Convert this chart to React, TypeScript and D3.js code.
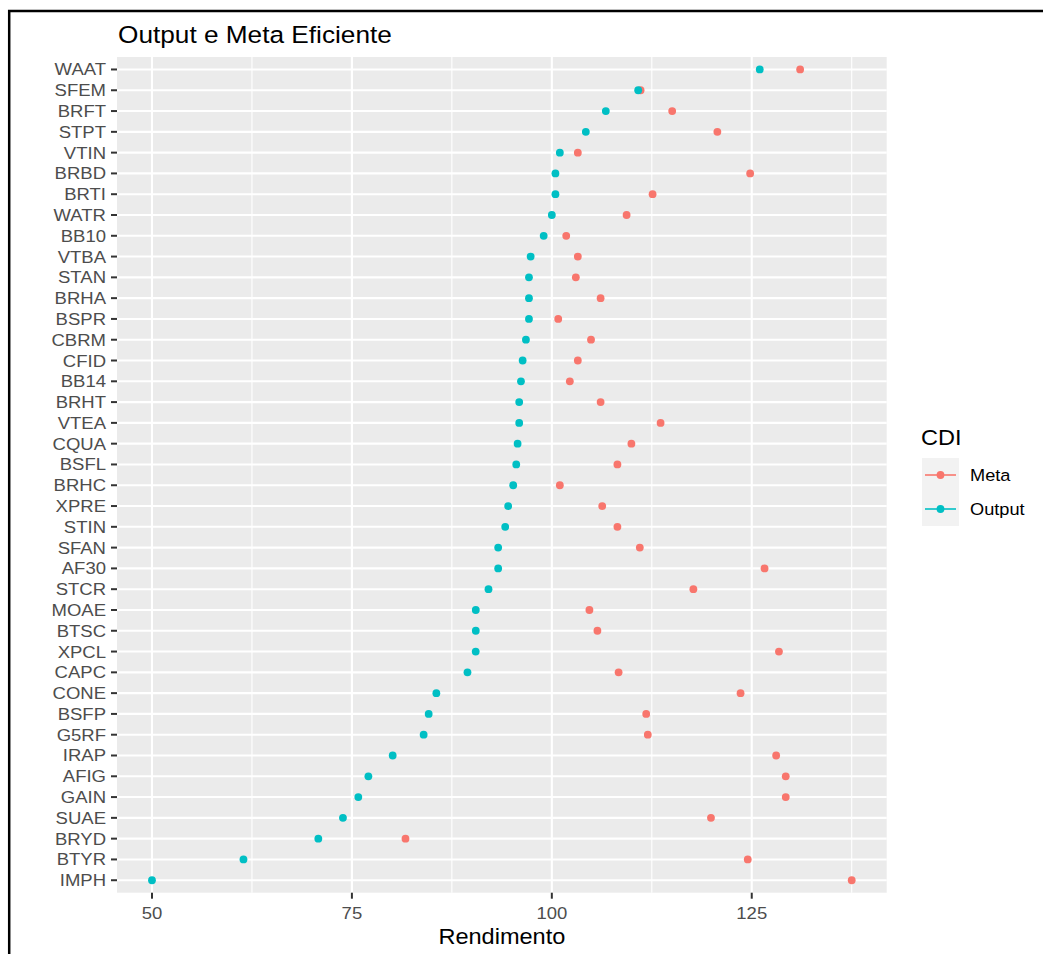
import * as d3 from "d3"

const categories = ["WAAT", "SFEM", "BRFT", "STPT", "VTIN", "BRBD", "BRTI", "WATR", "BB10", "VTBA",
    "STAN", "BRHA", "BSPR", "CBRM", "CFID", "BB14", "BRHT", "VTEA", "CQUA", "BSFL",
    "BRHC", "XPRE", "STIN", "SFAN", "AF30", "STCR", "MOAE", "BTSC", "XPCL", "CAPC",
    "CONE", "BSFP", "G5RF", "IRAP", "AFIG", "GAIN", "SUAE", "BRYD", "BTYR", "IMPH"]

const output = [126.0, 110.8, 106.75, 104.25, 101.0, 100.45, 100.45, 100.0, 98.98, 97.35,
    97.14, 97.14, 97.14, 96.76, 96.35, 96.14, 95.92, 95.92, 95.72, 95.55,
    95.17, 94.54, 94.17, 93.29, 93.29, 92.08, 90.49, 90.49, 90.48, 89.45,
    85.56, 84.6, 83.97, 80.1, 77.06, 75.8, 73.88, 70.8, 61.44, 50.0]

const meta = [131.05, 111.1, 115.05, 120.7, 103.25, 124.8, 112.6, 109.35, 101.8, 103.25,
    103.0, 106.1, 100.8, 104.9, 103.25, 102.25, 106.1, 113.6, 109.95, 108.2,
    101.0, 106.3, 108.2, 111.0, 126.6, 117.7, 104.7, 105.7, 128.4, 108.35,
    123.6, 111.8, 112.0, 128.05, 129.25, 129.25, 119.9, 81.7, 124.5, 137.5]

const majorTicks = [50, 75, 100, 125]
const minorTicks = [62.5, 87.5, 112.5, 137.5]

const seriesNames = ["Meta", "Output"]
const seriesColors = ["#F8766D", "#00BFC4"]

const font = "'Liberation Sans', Arial, sans-serif"
const stretch = 1.07

// text slightly widened, the reference glyphs are a bit broader than Liberation Sans
const Label = ({ x, y, size, fill, anchor, children }: any) => (
    <text transform={`translate(${x},${y}) scale(${stretch},1)`} fontSize={size} fill={fill} textAnchor={anchor ?? "start"}>
        {children}
    </text>
)

export default function App() {
    const panel = { left: 117, right: 886.7, top: 57, bottom: 892.7 }
    const all = [...output, ...meta]
    const [lo, hi] = d3.extent(all) as [number, number]
    const pad = (hi - lo) * 0.05
    const x = d3.scaleLinear().domain([lo - pad, hi + pad]).range([panel.left, panel.right])
    const y = d3.scalePoint<string>().domain(categories).range([panel.top, panel.bottom]).padding(0.6)
    const color = d3.scaleOrdinal<string, string>().domain(seriesNames).range(seriesColors)
    const series = [meta, output]

    return (
        <svg width={1043} height={954} style={{ position: "absolute", left: 0, top: 0 }} fontFamily={font}>
            <rect width={1043} height={954} fill="white" />
            <rect x={9.2} y={11} width={1100} height={1000} fill="none" stroke="black" strokeWidth={2.5} />
            <Label x={118} y={42.5} size={24.5} fill="black">Output e Meta Eficiente</Label>

            <rect x={panel.left} y={panel.top} width={panel.right - panel.left} height={panel.bottom - panel.top} fill="#EBEBEB" />
            {minorTicks.map((t) => (
                <line key={"mi" + t} x1={x(t)} x2={x(t)} y1={panel.top} y2={panel.bottom} stroke="white" strokeWidth={1.1} />
            ))}
            {majorTicks.map((t) => (
                <line key={"ma" + t} x1={x(t)} x2={x(t)} y1={panel.top} y2={panel.bottom} stroke="white" strokeWidth={2.1} />
            ))}
            {categories.map((c) => (
                <line key={"h" + c} x1={panel.left} x2={panel.right} y1={y(c)} y2={y(c)} stroke="white" strokeWidth={2.1} />
            ))}

            {series.map((vals, si) => vals.map((v, i) => (
                <circle key={si + "-" + i} cx={x(v)} cy={y(categories[i])} r={3.9} fill={color(seriesNames[si])} />
            )))}

            {categories.map((c) => (
                <g key={"yt" + c}>
                    <line x1={panel.left - 6} x2={panel.left} y1={y(c)} y2={y(c)} stroke="#333333" strokeWidth={2} />
                    <Label x={panel.left - 11} y={(y(c) ?? 0) + 6} size={17.3} fill="#4D4D4D" anchor="end">{c}</Label>
                </g>
            ))}
            {majorTicks.map((t) => (
                <g key={"xt" + t}>
                    <line x1={x(t)} x2={x(t)} y1={panel.bottom} y2={panel.bottom + 6} stroke="#333333" strokeWidth={2} />
                    <Label x={x(t)} y={919} size={17.3} fill="#4D4D4D" anchor="middle">{t}</Label>
                </g>
            ))}
            <Label x={(panel.left + panel.right) / 2} y={944} size={22} fill="black" anchor="middle">Rendimento</Label>

            <Label x={921} y={445} size={22} fill="black">CDI</Label>
            {seriesNames.map((s, i) => {
                const cy = 475 + i * 34
                return (
                    <g key={"lg" + s}>
                        <rect x={922} y={cy - 17} width={37} height={34} fill="#F2F2F2" />
                        <line x1={925} x2={956} y1={cy} y2={cy} stroke={color(s)} strokeWidth={1.6} />
                        <circle cx={940.5} cy={cy} r={3.9} fill={color(s)} />
                        <Label x={970} y={cy + 6} size={17} fill="black">{s}</Label>
                    </g>
                )
            })}
        </svg>
    )
}
